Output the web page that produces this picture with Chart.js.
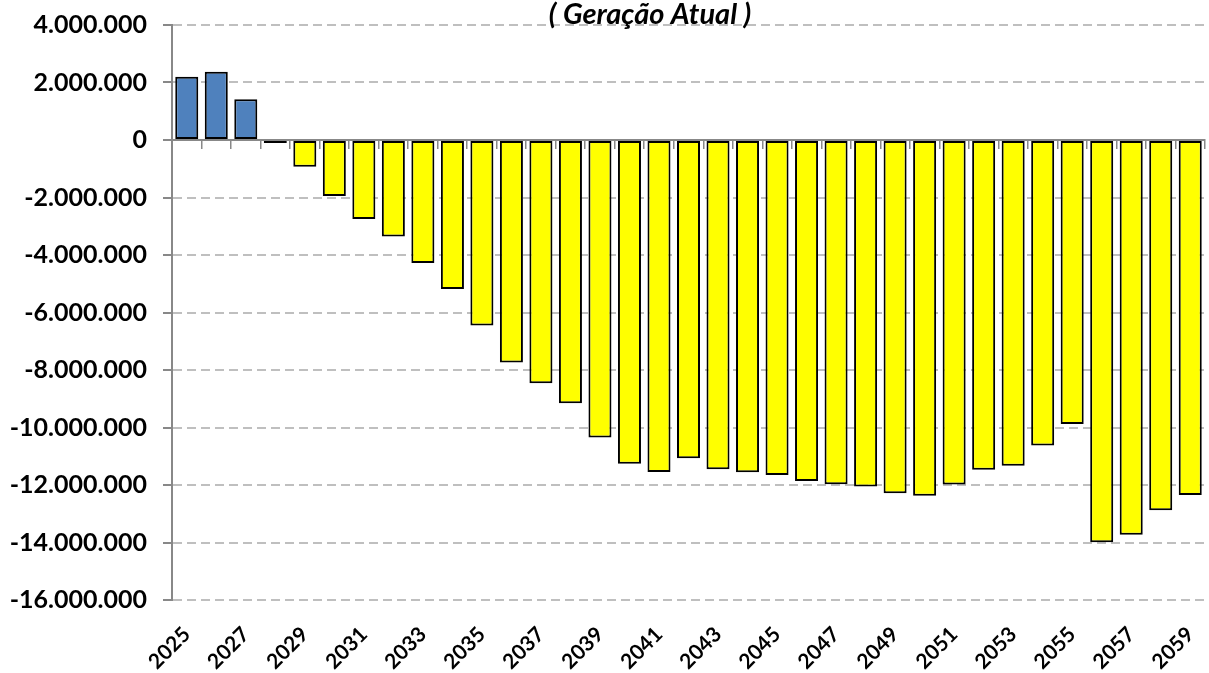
<!DOCTYPE html>
<html>
<head>
<meta charset="utf-8">
<script src="https://cdn.jsdelivr.net/npm/chart.js@4.4.1/dist/chart.umd.min.js"></script>
<style>
  html, body { margin: 0; padding: 0; background: #fff; }
  #wrap { width: 1209px; height: 673px; position: relative; }
</style>
</head>
<body>
<div id="wrap"><canvas id="c" width="1209" height="673"></canvas></div>
<script>
const years = [];
for (let y = 2025; y <= 2059; y++) years.push(String(y));

const saldo = [
  2200000, 2370000, 1415000, -100000, -930000, -1950000, -2750000, -3360000, -4280000, -5180000,
  -6450000, -7740000, -8460000, -9160000, -10350000, -11260000, -11550000, -11070000, -11450000, -11560000,
  -11650000, -11860000, -11970000, -12050000, -12290000, -12370000, -11980000, -11470000, -11330000, -10630000,
  -9880000, -13990000, -13730000, -12880000, -12350000
];

const yMin = -16000000, yMax = 4000000, yStep = 2000000;
const titleText = '( Geração Atual )';

const POS_COLOR = '#4F81BD';
const NEG_COLOR = '#FFFF00';

const titlePlugin = {
  id: 'topTitle',
  afterDraw(chart) {
    const ctx = chart.ctx;
    ctx.save();
    ctx.font = 'italic bold 29px Lato';
    ctx.fillStyle = '#000';
    ctx.textAlign = 'center';
    ctx.textBaseline = 'alphabetic';
    ctx.fillText(titleText, 650, 24);
    ctx.restore();
  }
};

function fmt(v) {
  const s = Math.abs(v).toString().replace(/\B(?=(\d{3})+(?!\d))/g, '.');
  return (v < 0 ? '-' : '') + s;
}

new Chart(document.getElementById('c'), {
  type: 'bar',
  data: {
    labels: years,
    datasets: [{
      data: saldo,
      backgroundColor: ctx => (ctx.raw >= 0 ? POS_COLOR : NEG_COLOR),
      borderColor: '#000',
      borderWidth: 2,
      borderSkipped: false,
      barPercentage: 0.78,
      categoryPercentage: 1.0
    }]
  },
  options: {
    responsive: false,
    animation: false,
    layout: { padding: { top: 25, right: 4, left: 0, bottom: 0 } },
    plugins: {
      legend: { display: false },
      tooltip: { enabled: false },
      title: { display: false }
    },
    scales: {
      x: {
        type: 'category',
        position: 'bottom',
        offset: true,
        grid: { display: false, drawTicks: false },
        border: { display: false },
        ticks: {
          autoSkip: false,
          maxRotation: 45,
          minRotation: 45,
          padding: 22,
          color: '#000',
          font: { family: 'Lato', size: 21, weight: 'bold' },
          callback: (v, i) => (i % 2 === 0 ? years[i] : '')
        },
        afterFit: s => { s.height = 73; s.paddingLeft = 0; s.paddingRight = 0; }
      },
      x0: {
        type: 'category',
        position: { y: 0 },
        offset: true,
        grid: { drawOnChartArea: false, drawTicks: true, tickLength: 8, color: '#888888', lineWidth: 1.5, offset: true },
        border: { display: true, color: '#888888', width: 2 },
        ticks: { display: false },
        afterFit: s => { s.paddingLeft = 0; s.paddingRight = 0; }
      },
      y: {
        min: yMin,
        max: yMax,
        ticks: {
          stepSize: yStep,
          padding: 16,
          color: '#000',
          font: { family: 'Lato', size: 25, weight: 'bold' },
          callback: v => fmt(v)
        },
        grid: {
          color: '#BFBFBF',
          lineWidth: 2,
          tickLength: 9,
          tickColor: '#888888',
          tickBorderDash: []
        },
        border: { display: true, color: '#888888', width: 2, dash: [9, 5] },
        afterFit: s => { s.width = 172; s.paddingTop = 0; s.paddingBottom = 0; }
      }
    }
  },
  plugins: [titlePlugin]
});
</script>
</body>
</html>
